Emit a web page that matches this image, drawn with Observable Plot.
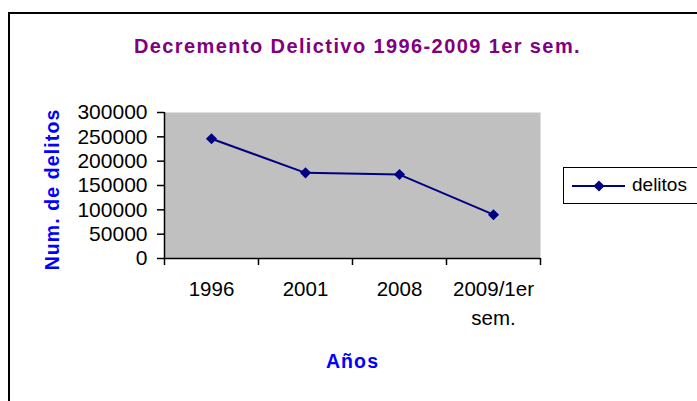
<!DOCTYPE html>
<html>
<head>
<meta charset="utf-8">
<script src="https://cdn.jsdelivr.net/npm/d3@7"></script>
<script src="https://cdn.jsdelivr.net/npm/@observablehq/plot@0.6"></script>
<style>
  html, body { margin: 0; padding: 0; background: #fff; }
  #wrap { position: relative; width: 697px; height: 401px; overflow: hidden; font-family: "Liberation Sans", Arial, sans-serif; }
  #border { position: absolute; left: 8px; top: 12px; right: -10px; bottom: -10px; border-top: 2.5px solid #000; border-left: 2px solid #000; }
  #chart { position: absolute; left: 0; top: 0; }
  #legend { position: absolute; left: 563px; top: 167px; width: 140px; height: 35px; border: 1.5px solid #000; background: #fff; }
  #legend svg { position: absolute; left: 0; top: 0; }
  #legend span { position: absolute; left: 68px; top: 6px; font-size: 19px; color: #000; }
</style>
</head>
<body>
<div id="wrap">
  <div id="border"></div>
  <div id="chart"></div>
  <div id="legend"></div>
</div>
<script>
const categories = ["1996", "2001", "2008", "2009/1er sem."];
const tickLabels = ["1996", "2001", "2008", "2009/1er\nsem."];
const delitos = [246000, 176000, 172500, 90000];
const yTicks = [0, 50000, 100000, 150000, 200000, 250000, 300000];
const seriesName = "delitos";
const titleText = "Decremento Delictivo 1996-2009 1er sem.";
const yLabel = "Num. de delitos";
const xLabel = "Años";

const navy = "#000080";
const data = categories.map((c, i) => ({cat: c, pos: i + 0.5, value: delitos[i]}));

const chart = Plot.plot({
  width: 697,
  height: 401,
  marginLeft: 164,
  marginRight: 157,
  marginTop: 112,
  marginBottom: 143,
  style: {fontFamily: "'Liberation Sans', Arial, sans-serif", fontSize: "20px", background: "transparent", color: "#000"},
  x: {type: "linear", domain: [0, categories.length]},
  y: {domain: [0, 300000]},
  marks: [
    Plot.frame({fill: "#C0C0C0", stroke: null}),
    Plot.axisY({ticks: yTicks, tickSize: 7, tickPadding: 10, tickFormat: d => String(d), label: null, strokeWidth: 1.5, fontSize: 21}),
    Plot.axisX({ticks: d3.range(categories.length + 1), tickSize: 7, tickFormat: () => "", label: null, strokeWidth: 1.5}),
    Plot.axisX({ticks: categories.map((c, i) => i + 0.5), tickSize: 0, tickPadding: 16, tickFormat: (d) => tickLabels[Math.round(d - 0.5)], label: null, fontSize: 20.5, lineHeight: 1.45}),
    Plot.ruleX([0], {stroke: "#000", strokeWidth: 1.5}),
    Plot.ruleY([0], {stroke: "#000", strokeWidth: 1.5}),
    Plot.line(data, {x: "pos", y: "value", stroke: navy, strokeWidth: 2}),
    Plot.dot(data, {x: "pos", y: "value", symbol: "diamond2", r: 5, fill: navy, stroke: null}),
    Plot.text([titleText], {frameAnchor: "top", textAnchor: "middle", lineAnchor: "middle", dx: 5, dy: -66, fontSize: 20, fontWeight: "bold", fill: "#800080"}),
    Plot.text([yLabel], {frameAnchor: "left", textAnchor: "middle", lineAnchor: "middle", rotate: -90, dx: -112, dy: 4, fontSize: 19.5, fontWeight: "bold", fill: "#0000FF"}),
    Plot.text([xLabel], {frameAnchor: "bottom", textAnchor: "middle", lineAnchor: "middle", dx: 0, dy: 103, fontSize: 19.5, fontWeight: "bold", fill: "#0000FF"})
  ]
});
document.getElementById("chart").appendChild(chart);

// letter spacing for the bold titles
d3.select(chart).selectAll("text").each(function() {
  const t = this.textContent;
  if (t === titleText) this.style.letterSpacing = "1.4px";
  if (t === yLabel || t === xLabel) this.style.letterSpacing = "1.1px";
});

// legend
const leg = document.getElementById("legend");
const sw = d3.create("svg").attr("width", 66).attr("height", 35);
sw.append("line").attr("x1", 8).attr("x2", 61).attr("y1", 18).attr("y2", 18).attr("stroke", navy).attr("stroke-width", 2);
sw.append("path").attr("d", d3.symbol(d3.symbolDiamond2, Math.PI * 25)()).attr("transform", "translate(35,18)").attr("fill", navy);
leg.appendChild(sw.node());
const lab = document.createElement("span");
lab.textContent = seriesName;
leg.appendChild(lab);
</script>
</body>
</html>
